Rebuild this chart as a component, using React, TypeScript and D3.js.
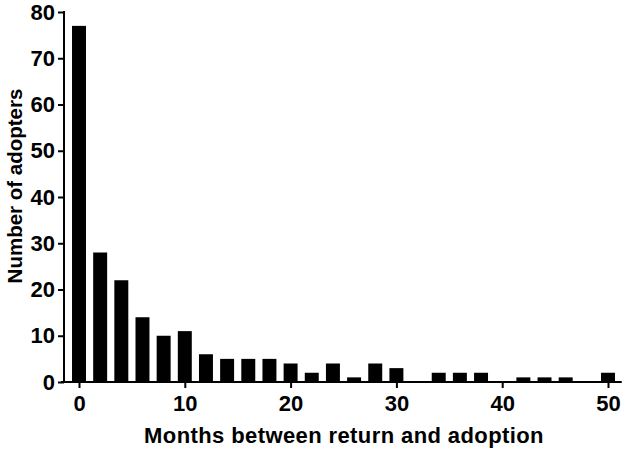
import React, { useEffect, useRef } from 'react';
import * as d3 from 'd3';

// months between return and adoption (bin centres) and the count in each bin
const months = [0, 2, 4, 6, 8, 10, 12, 14, 16, 18, 20, 22, 24, 26, 28, 30, 32, 34, 36, 38, 40, 42, 44, 46, 48, 50];
const adopters = [77, 28, 22, 14, 10, 11, 6, 5, 5, 5, 4, 2, 4, 1, 4, 3, 0, 2, 2, 2, 0, 1, 1, 1, 0, 2];
const xTicks = [0, 10, 20, 30, 40, 50];
const yTicks = [0, 10, 20, 30, 40, 50, 60, 70, 80];

const width = 629;
const height = 452;
const font = '"Liberation Sans", Arial, sans-serif';

const App: React.FC = () => {
  const svgRef = useRef<SVGSVGElement>(null);

  useEffect(() => {
    if (!svgRef.current) return;
    const svg = d3.select(svgRef.current);
    svg.selectAll('*').remove();

    const x = d3.scaleLinear().domain([0, 50]).range([79, 608]);
    const y = d3.scaleLinear().domain([0, 80]).range([382, 12]);
    const axisLeftX = 64;
    const half = 0.66;

    // bars
    svg.append('g')
      .selectAll('rect')
      .data(months)
      .enter()
      .append('rect')
      .attr('x', d => x(d - half))
      .attr('width', x(half) - x(-half))
      .attr('y', (d, i) => y(adopters[i]))
      .attr('height', (d, i) => y(0) - y(adopters[i]))
      .attr('fill', '#000');

    // y axis
    const yAxis = svg.append('g')
      .attr('transform', `translate(${axisLeftX},0)`)
      .call(d3.axisLeft(y).tickValues(yTicks).tickSize(6).tickPadding(3));
    yAxis.select('.domain').remove();
    yAxis.append('line')
      .attr('x1', 0).attr('x2', 0)
      .attr('y1', y(80) - 1).attr('y2', y(0) + 1)
      .attr('stroke', '#000').attr('stroke-width', 2);

    // x axis
    const xAxis = svg.append('g')
      .attr('transform', `translate(0,${y(0)})`)
      .call(d3.axisBottom(x).tickValues(xTicks).tickSize(6).tickPadding(7));
    xAxis.select('.domain').remove();
    xAxis.append('line')
      .attr('x1', x(-1.7)).attr('x2', x(51.3))
      .attr('y1', 0).attr('y2', 0)
      .attr('stroke', '#000').attr('stroke-width', 2);

    svg.selectAll('.tick line').attr('stroke', '#000').attr('stroke-width', 2);
    svg.selectAll('.tick text')
      .attr('fill', '#000')
      .style('font-family', font)
      .style('font-weight', 'bold')
      .style('font-size', '22px');

    // axis titles
    svg.append('text')
      .attr('x', 344)
      .attr('y', 443)
      .attr('text-anchor', 'middle')
      .style('font-family', font)
      .style('font-weight', 'bold')
      .style('font-size', '22px')
      .style('letter-spacing', '0.4px')
      .text('Months between return and adoption');

    svg.append('text')
      .attr('transform', `translate(22,186) rotate(-90)`)
      .attr('text-anchor', 'middle')
      .style('font-family', font)
      .style('font-weight', 'bold')
      .style('font-size', '20.5px')
      .text('Number of adopters');
  }, []);

  return (
    <svg
      ref={svgRef}
      width={width}
      height={height}
      style={{ position: 'absolute', left: 0, top: 0, background: '#fff' }}
    />
  );
};

export default App;
